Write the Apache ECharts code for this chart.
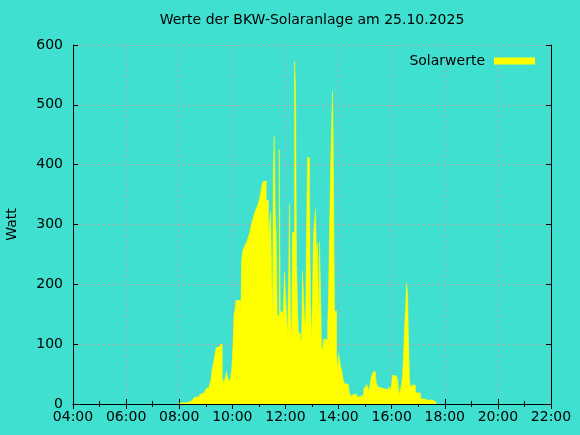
<!DOCTYPE html>
<html>
<head>
<meta charset="utf-8">
<script src="https://cdn.jsdelivr.net/npm/echarts@6/dist/echarts.min.js"></script>
<style>html,body{margin:0;padding:0;background:#40e0d0;}#c{width:580px;height:435px;}</style>
</head>
<body>
<div id="c"></div>
<script>
// time of day in decimal hours (start of each step) and power in Watt
const hours = [
  8.011, 8.162, 8.237, 8.313, 8.414, 8.490, 8.565, 8.640, 8.765, 8.840,
  8.942, 9.017, 9.092, 9.141, 9.190, 9.243, 9.292, 9.341, 9.394, 9.443,
  9.544, 9.620, 9.669, 9.725, 9.782, 9.831, 9.876, 9.932, 9.981, 10.026,
  10.064, 10.102, 10.139, 10.320, 10.347, 10.384, 10.422, 10.471, 10.546, 10.584,
  10.621, 10.659, 10.697, 10.735, 10.772, 10.810, 10.874, 10.923, 10.960, 10.998,
  11.036, 11.073, 11.111, 11.149, 11.186, 11.277, 11.363, 11.401, 11.439, 11.514,
  11.541, 11.578, 11.616, 11.654, 11.691, 11.767, 11.804, 11.917, 11.966, 12.041,
  12.079, 12.117, 12.154, 12.192, 12.230, 12.267, 12.343, 12.380, 12.418, 12.456,
  12.493, 12.569, 12.606, 12.644, 12.719, 12.757, 12.795, 12.832, 12.908, 12.945,
  12.983, 13.021, 13.058, 13.096, 13.134, 13.171, 13.209, 13.247, 13.284, 13.322,
  13.360, 13.397, 13.435, 13.586, 13.623, 13.661, 13.699, 13.736, 13.774, 13.800,
  13.849, 13.925, 13.962, 14.000, 14.075, 14.113, 14.151, 14.188, 14.226, 14.264,
  14.377, 14.414, 14.452, 14.527, 14.565, 14.640, 14.678, 14.791, 14.866, 14.942,
  15.017, 15.055, 15.130, 15.168, 15.205, 15.243, 15.281, 15.318, 15.394, 15.431,
  15.469, 15.507, 15.582, 15.620, 15.657, 15.695, 15.883, 15.947, 15.996, 16.034,
  16.098, 16.173, 16.222, 16.260, 16.298, 16.335, 16.373, 16.411, 16.448, 16.486,
  16.524, 16.561, 16.599, 16.637, 16.674, 16.712, 16.750, 16.787, 16.825, 16.900,
  16.976, 17.051, 17.089, 17.126, 17.277, 17.352, 17.390, 17.427, 17.503, 17.578,
  17.653, 17.691
];
const watts = [
  2, 3, 2, 4, 6, 8, 11, 12, 16, 19,
  22, 26, 28, 33, 39, 59, 68, 82, 94, 96,
  100, 45, 35, 43, 54, 43, 38, 43, 62, 101,
  151, 157, 173, 140, 237, 254, 259, 265, 271, 276,
  282, 287, 296, 303, 309, 315, 324, 329, 333, 339,
  346, 354, 365, 371, 373, 340, 282, 301, 321, 132,
  387, 447, 318, 282, 148, 426, 154, 157, 220, 148,
  115, 209, 334, 146, 107, 287, 573, 537, 237, 159,
  118, 101, 109, 222, 143, 129, 287, 412, 342, 168,
  107, 193, 287, 307, 326, 246, 268, 137, 271, 190,
  96, 87, 108, 126, 184, 290, 390, 463, 523, 440,
  155, 83, 58, 84, 63, 58, 47, 38, 34, 33,
  26, 19, 13, 16, 18, 17, 12, 11, 15, 25,
  29, 33, 22, 29, 37, 47, 50, 54, 43, 34,
  29, 27, 26, 29, 26, 24, 29, 23, 32, 48,
  47, 44, 41, 26, 15, 25, 34, 47, 82, 128,
  161, 201, 187, 104, 40, 28, 29, 32, 31, 19,
  22, 18, 9, 8, 7, 6, 8, 7, 6, 4,
  2, 0
];
const titleText = 'Werte der BKW-Solaranlage am 25.10.2025';
const seriesName = 'Solarwerte';
const yName = 'Watt';

const FONT = 'DejaVu Sans';
const pad = n => (n < 10 ? '0' : '') + n;
// each value holds from its own time until the next time (step shape)
const data = [];
hours.forEach((h, i) => {
  data.push([h, watts[i]]);
  if (i + 1 < hours.length) data.push([hours[i + 1], watts[i]]);
});

const chart = echarts.init(document.getElementById('c'), null, {renderer: 'canvas'});
const gridLine = {show: true, lineStyle: {color: '#c49ca6', type: [2, 3], width: 1}};
const axisLine = {show: true, lineStyle: {color: '#000', width: 1}};
const tick = {show: true, inside: true, length: 5, lineStyle: {color: '#000'}};
const minor = {show: true, splitNumber: 2, length: 3, lineStyle: {color: '#000'}};
chart.setOption({
  animation: false,
  backgroundColor: '#40e0d0',
  title: {
    text: titleText, left: 312, top: 13, padding: 0, textAlign: 'center',
    textStyle: {fontFamily: FONT, fontSize: 14, fontWeight: 'normal', color: '#000'}
  },
  legend: {
    data: [{name: seriesName, icon: 'rect', itemStyle: {color: '#ffff00'}}],
    right: 40, top: 49, align: 'right', itemWidth: 41, itemHeight: 7,
    textStyle: {fontFamily: FONT, fontSize: 14, color: '#000', padding: [0, 4, 0, 0]}
  },
  grid: {left: 73, right: 29, top: 45, bottom: 31, containLabel: false, outerBoundsMode: 'none'},
  xAxis: [{
    type: 'value', min: 4, max: 22, interval: 2, position: 'bottom',
    axisLine: axisLine, axisTick: tick, minorTick: minor,
    splitLine: gridLine,
    axisLabel: {formatter: v => pad(v) + ':00', fontFamily: FONT, fontSize: 14, color: '#000', margin: 6}
  }, {
    type: 'value', min: 4, max: 22, interval: 2, position: 'top',
    axisLine: axisLine, axisTick: tick, minorTick: minor,
    splitLine: {show: false}, axisLabel: {show: false}
  }],
  yAxis: [{
    type: 'value', min: 0, max: 600, interval: 100, position: 'left',
    name: yName, nameLocation: 'middle', nameGap: 54,
    nameTextStyle: {fontFamily: FONT, fontSize: 14, color: '#000'},
    axisLine: axisLine, axisTick: tick,
    splitLine: gridLine,
    axisLabel: {fontFamily: FONT, fontSize: 14, color: '#000', margin: 10}
  }, {
    type: 'value', min: 0, max: 600, interval: 100, position: 'right',
    axisLine: axisLine, axisTick: tick,
    splitLine: {show: false}, axisLabel: {show: false}
  }],
  series: [{
    name: seriesName, type: 'line', data: data,
    xAxisIndex: 0, yAxisIndex: 0,
    showSymbol: false, symbol: 'none',
    color: '#ffff00',
    lineStyle: {width: 0.5, color: '#ffff00'},
    areaStyle: {color: '#ffff00', opacity: 1},
    z: 1
  }]
});
</script>
</body>
</html>
